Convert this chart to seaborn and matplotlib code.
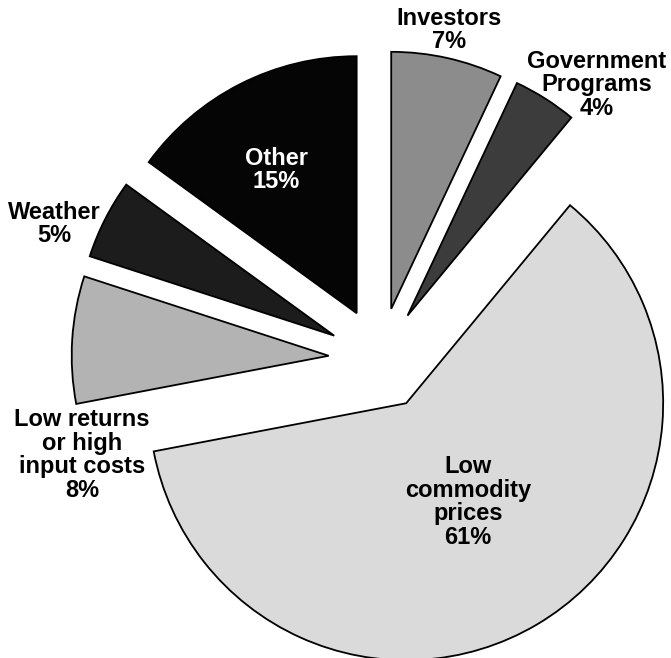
import matplotlib
matplotlib.use("Agg")
import matplotlib.pyplot as plt
import seaborn as sns

# slices, clockwise from 12 o'clock
labels = ["Investors", "Government\nPrograms", "Low\ncommodity\nprices",
          "Low returns\nor high\ninput costs", "Weather", "Other"]
shares = [7, 4, 61, 8, 5, 15]
colors = ["#8c8c8c", "#3c3c3c", "#dadada", "#b3b3b3", "#1c1c1c", "#050505"]

sns.set_style("white")
plt.rcParams["font.family"] = ["Liberation Sans", "DejaVu Sans"]

W, H = 671, 658
fig = plt.figure(figsize=(W / 100, H / 100), dpi=100)
ax = fig.add_axes([0, 0, 1, 1])

# pixel geometry of the pie (centre and radius)
cx, cy, r = 380, 359, 257

wedges, _ = ax.pie(shares, colors=colors, startangle=90, counterclock=False,
                   explode=[0.2] * len(shares), radius=1,
                   wedgeprops=dict(edgecolor="black", linewidth=1.3))

def px(x, y):
    return (x - cx) / r, (cy - y) / r

# label positions in pixels
label_pos = [(449, 30), (597, 85), (468, 502), (82, 455), (54, 224), (276, 170)]
text_col = ["black", "black", "black", "black", "black", "white"]

for lab, s, (x, y), c in zip(labels, shares, label_pos, text_col):
    tx, ty = px(x, y)
    ax.text(tx, ty, f"{lab}\n{s}%", ha="center", va="center", fontsize=17,
            fontweight="bold", color=c, linespacing=1.05)

ax.set_xlim(-cx / r, (W - cx) / r)
ax.set_ylim(-(H - cy) / r, cy / r)
ax.set_aspect("auto")
ax.axis("off")

fig.savefig("out.png", dpi=100)
